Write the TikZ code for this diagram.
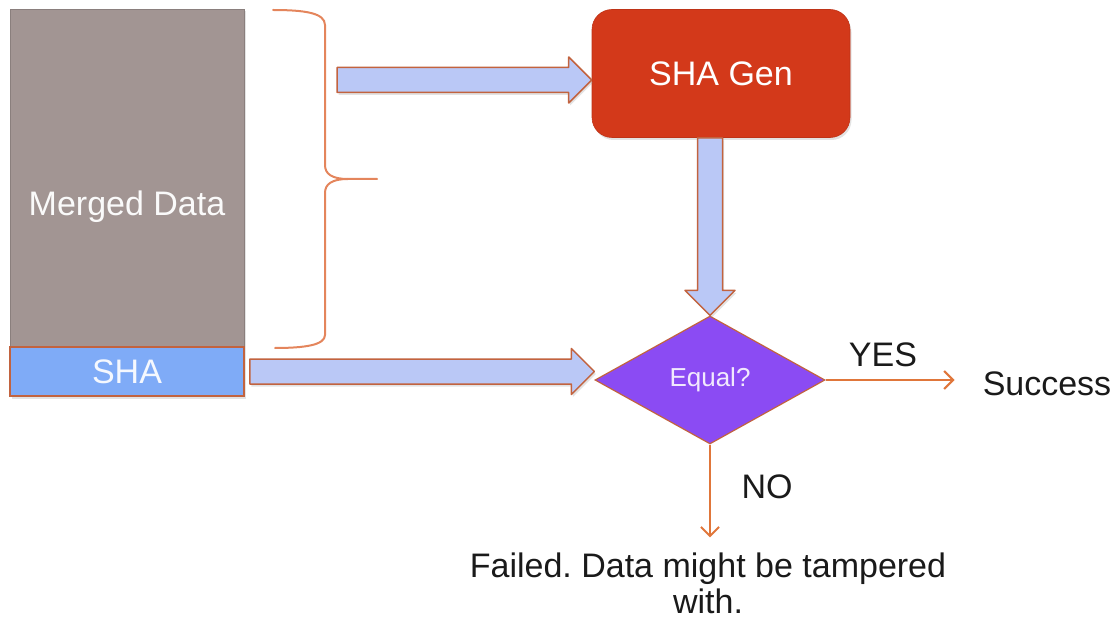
\documentclass[tikz,border=0pt]{standalone}
\usepackage{fontspec}
\setmainfont{Liberation Sans}
\usetikzlibrary{shapes.geometric,arrows.meta,calc,shadows}
\frenchspacing

\definecolor{mdgray}{HTML}{A29593}
\definecolor{shablue}{HTML}{7FABF7}
\definecolor{genred}{HTML}{D3391A}
\definecolor{eqpurple}{HTML}{8B4BF3}
\definecolor{fatfill}{HTML}{BAC8F6}
\definecolor{fatedge}{HTML}{C2633F}
\definecolor{flow}{HTML}{E0763A}
\definecolor{bracecol}{HTML}{E4855C}
\definecolor{ink}{HTML}{1A1A1A}

\tikzset{
  big/.style={font=\fontsize{34}{36}\selectfont},
  softshadow/.style={drop shadow={opacity=.22, shadow xshift=1.5pt, shadow yshift=-2.5pt}},
  databox/.style={rectangle, fill=mdgray, draw=mdgray!85!black, line width=.6pt,
    minimum width=234pt, minimum height=338pt, inner sep=0pt, softshadow},
  shabox/.style={rectangle, fill=shablue, draw=fatedge, line width=1.5pt,
    minimum width=234pt, minimum height=49pt, inner sep=0pt, softshadow,
    big, text=white!92!shablue},
  genbox/.style={rectangle, rounded corners=20pt, fill=genred, draw=genred!90!black,
    line width=.6pt, minimum width=258pt, minimum height=128pt, inner sep=0pt,
    softshadow, big, text=white},
  decision/.style={diamond, fill=eqpurple, draw=fatedge, line width=1.2pt,
    minimum width=230pt, minimum height=128pt, inner sep=0pt,
    font=\fontsize{26}{28}\selectfont, text=white!88!eqpurple},
  fatarrow/.style={fill=fatfill, draw=fatedge, line width=1.5pt, line join=round, softshadow},
  flowline/.style={draw=flow, line width=2pt,
    -{Straight Barb[length=9pt,width=18pt,line width=2pt]}},
  bracestyle/.style={draw=bracecol, line width=2pt, line cap=round},
  lbl/.style={big, text=ink, inner sep=0pt},
}

% horizontal block arrow: tail x from #1, tip at #2
\newcommand\hblock[2]{%
  \draw[fatarrow] let \p1=(#1), \p2=(#2) in
    (\x1,\y2+12.5pt) -- (\x2-23pt,\y2+12.5pt) -- (\x2-23pt,\y2+23pt) -- (\x2,\y2)
    -- (\x2-23pt,\y2-23pt) -- (\x2-23pt,\y2-12.5pt) -- (\x1,\y2-12.5pt) -- cycle;}
% vertical block arrow: tail y from #1, tip at #2
\newcommand\vblock[2]{%
  \draw[fatarrow] let \p1=(#1), \p2=(#2) in
    (\x2-12.5pt,\y1) -- (\x2-12.5pt,\y2+25pt) -- (\x2-25pt,\y2+25pt) -- (\x2,\y2)
    -- (\x2+25pt,\y2+25pt) -- (\x2+12.5pt,\y2+25pt) -- (\x2+12.5pt,\y1) -- cycle;}

\begin{document}
\begin{tikzpicture}[x=1pt,y=-1pt]
\useasboundingbox (0,0) rectangle (1120,623);

% data column
\node[databox] (md) at (127,178) {};
\node[lbl, text=white!95!mdgray] (mdtext) at (127,207) {Merged Data};
\node[shabox] (sha) at (127,371.5) {SHA};

% brace spanning the merged data
\draw[bracestyle] (273,10) .. controls (305,10) and (325,13) .. (325,25) -- (325,165)
  .. controls (325,174) and (332,179) .. (348,179) -- (377,179);
\draw[bracestyle] (348,179) .. controls (332,179) and (325,184) .. (325,193) -- (325,335)
  .. controls (325,345) and (305,348) .. (275,348);

% processing
\node[genbox] (gen) at (721,73.5) {SHA Gen};
\node[decision] (eq) at (710,380) {Equal?};

% outcomes
\node[lbl] (succ) at (1047,384) {Success};
\node[lbl, align=center] (fail) at (708,583) {Failed. Data might be tampered\\with.};

% block arrows
\coordinate (genin) at (337,80);
\hblock{genin}{genin -| gen.west}
\vblock{gen.south}{eq.north}
\hblock{$(sha.east)+(5,0)$}{sha.east -| eq.west}

% decision branches
\draw[flowline, shorten >=28pt] (eq.east) -- (eq.east -| succ.west);
\draw[flowline, shorten >=15pt] (eq.south) -- (eq.south |- fail.north);
\node[lbl] (yes) at (883,355) {YES};
\node[lbl] (no) at (767,487) {NO};
\end{tikzpicture}
\end{document}
